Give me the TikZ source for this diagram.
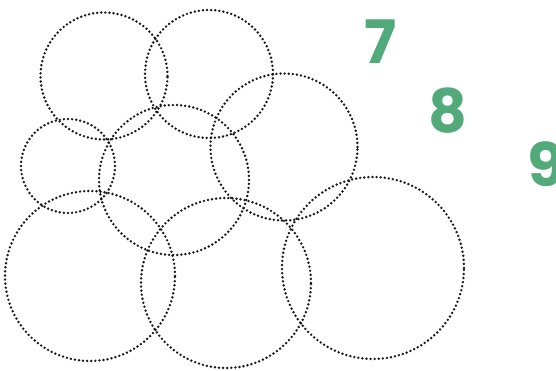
\documentclass[tikz,border=0pt]{standalone}
\usepackage{fontspec}
\setmainfont{Poppins}
\definecolor{digitgreen}{RGB}{82,170,122}

\begin{document}
\begin{tikzpicture}[x=1pt, y=-1pt,
    ring/.style={circle, draw=black!90, line width=2.7pt, line cap=round,
                 dash pattern=on 0pt off 4.1pt, inner sep=0pt},
    digit/.style={text=digitgreen, font=\fontsize{60}{60}\selectfont\bfseries, inner sep=0pt}
  ]
    \useasboundingbox (0,0) rectangle (556,371);
    \node[ring, minimum size=127pt] (topleft)  at (104,76)  {};
    \node[ring, minimum size=128pt] (topmid)   at (209,74)  {};
    \node[ring, minimum size=94pt]  (midleft)  at (68,166)  {};
    \node[ring, minimum size=150pt] (centre)   at (174,180) {};
    \node[ring, minimum size=147pt] (midright) at (284,147) {};
    \node[ring, minimum size=170pt] (botleft)  at (90,276)  {};
    \node[ring, minimum size=170pt] (botmid)   at (226,283) {};
    \node[ring, minimum size=182pt] (botright) at (373,268) {};
    \node[digit] (seven) at (381,42)  {7};
    \node[digit] (eight) at (448,111) {8};
    \node[digit] (nine)  at (546,164) {9};
  \end{tikzpicture}
\end{document}
